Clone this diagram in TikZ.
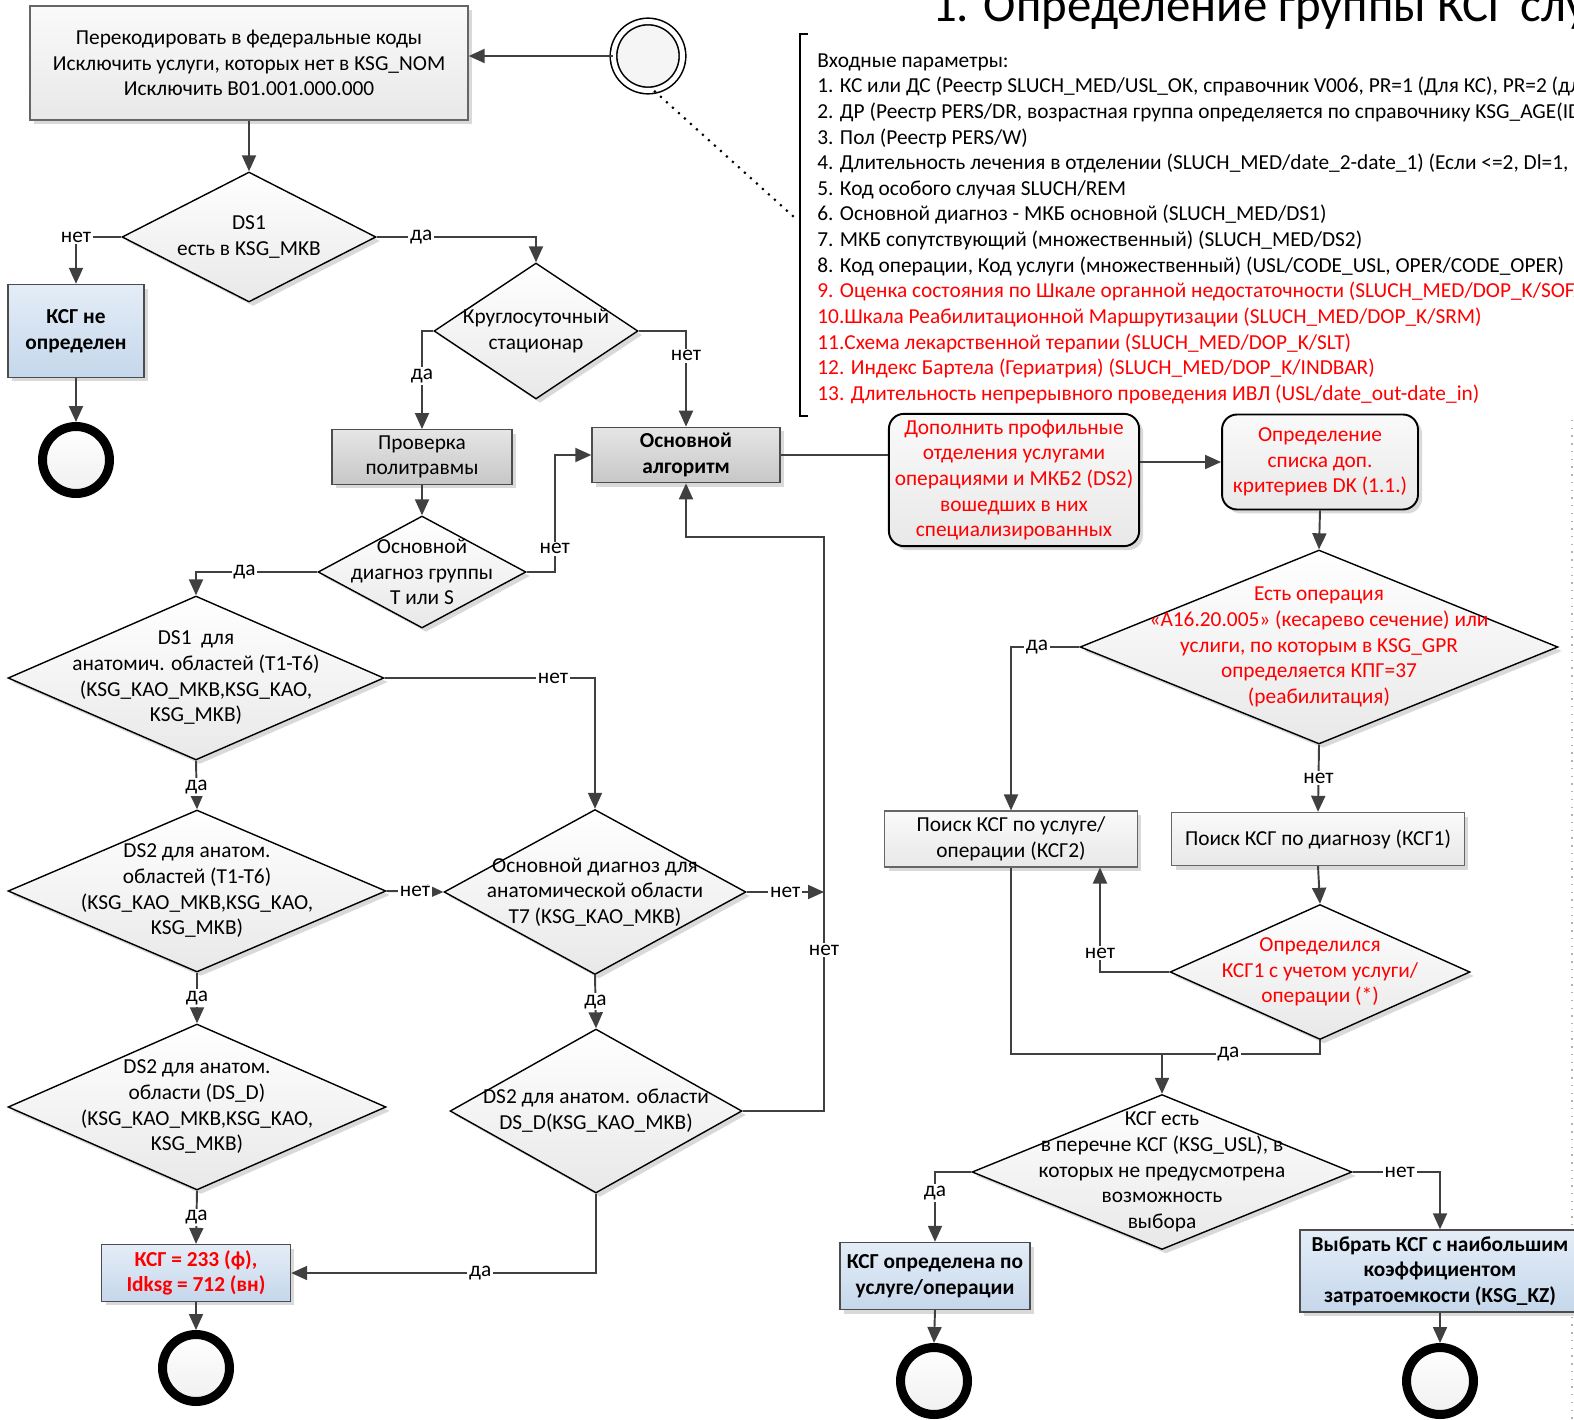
\documentclass[tikz,border=0pt]{standalone}
\usepackage{fontspec}
\setmainfont{Carlito}
\usetikzlibrary{shapes.geometric, arrows.meta, shadows, positioning}
\definecolor{boxblue1}{HTML}{E4EDF7}
\definecolor{boxblue2}{HTML}{C5D7EB}
\definecolor{linegray}{HTML}{404040}
\newcommand{\basefont}{\fontsize{12.15pt}{14.6pt}\selectfont}
\tikzset{
	every node/.style={font=\basefont},
	boxshadow/.style={drop shadow={shadow xshift=0.08cm, shadow yshift=-0.08cm, fill=black!15, opacity=1}},
	link/.style={draw=linegray, line width=1.1pt},
	flow/.style={link, -{Triangle[length=0.32cm, width=0.28cm]}},
	lbl/.style={fill=white, inner sep=1pt},
	decision/.style={diamond, draw=black, line width=0.8pt, top color=white, bottom color=black!9, inner sep=0pt, boxshadow},
	dtext/.style={align=center, inner sep=0pt},
	procbox/.style={rectangle, draw=black!60, line width=0.8pt, top color=black!2, bottom color=black!9, align=center, boxshadow},
	greybox/.style={procbox, draw=black!70, top color=black!10, bottom color=black!22},
	bluebox/.style={procbox, draw=black!70, top color=boxblue1, bottom color=boxblue2, font=\basefont\bfseries},
	roundbox/.style={procbox, draw=black, line width=1.1pt, rounded corners=0.3cm, text=red},
	startpt/.style={circle, draw=black, line width=0.9pt, double=white, double distance=0.1cm, fill=black!4, minimum size=1.38cm, inner sep=0pt},
	endpt/.style={circle, draw=black, line width=0.18cm, top color=white, bottom color=black!6, minimum size=1.34cm, inner sep=0pt}
}

\begin{document}
\begin{tikzpicture}[x=0.02cm, y=-0.02cm]
	\useasboundingbox (0,0) rectangle (1574,1419);
	\clip (0,0) rectangle (1574,1419);
	\node[anchor=base west, font=\fontsize{27.8pt}{32pt}\selectfont] (title) at (926,22) {1. Определение группы КСГ случая};
	\draw[line width=1pt] (808,34) -- (800,34) -- (800,416) -- (808,416);
	\node[anchor=north west, align=left, inner sep=0pt] (params) at (817,53) {Входные параметры:\\
		1. КС или ДС (Реестр SLUCH\_MED/USL\_OK, справочник V006, PR=1 (Для КС), PR=2 (для ДС))\\
		2. ДР (Реестр PERS/DR, возрастная группа определяется по справочнику KSG\_AGE(ID\_AGE))\\
		3. Пол (Реестр PERS/W)\\
		4. Длительность лечения в отделении (SLUCH\_MED/date\_2-date\_1) (Если <=2, Dl=1, иначе Dl=2)\\
		5. Код особого случая SLUCH/REM\\
		6. Основной диагноз - МКБ основной (SLUCH\_MED/DS1)\\
		7. МКБ сопутствующий (множественный) (SLUCH\_MED/DS2)\\
		8. Код операции, Код услуги (множественный) (USL/CODE\_USL, OPER/CODE\_OPER)\\
		\textcolor{red}{9. Оценка состояния по Шкале органной недостаточности (SLUCH\_MED/DOP\_K/SOFA)}\\
		\textcolor{red}{10.Шкала Реабилитационной Маршрутизации (SLUCH\_MED/DOP\_K/SRM)}\\
		\textcolor{red}{11.Схема лекарственной терапии (SLUCH\_MED/DOP\_K/SLT)}\\
		\textcolor{red}{12. Индекс Бартела (Гериатрия) (SLUCH\_MED/DOP\_K/INDBAR)}\\
		\textcolor{red}{13. Длительность непрерывного проведения ИВЛ (USL/date\_out-date\_in)}};
	\draw[dash pattern={on 0.8pt off 3.6pt}, line width=0.8pt, black!30] (1572,420) -- (1572,1419);

	\node[startpt] (start) at (648,56) {};
	\coordinate (note) at (795,218);
	\node[procbox, minimum width=8.76cm, minimum height=2.28cm] (recode) at (249,63) {Перекодировать в федеральные коды\\Исключить услуги, которых нет в KSG\_NOM\\Исключить B01.001.000.000};
	\node[decision, minimum width=5.08cm, minimum height=2.6cm, label={[dtext]center:{DS1\\есть в KSG\_MKB}}] (ds1) at (249,237) {};
	\node[bluebox, minimum width=2.72cm, minimum height=1.86cm] (nokg) at (76,331) {КСГ не\\определен};
	\node[endpt] (end1) at (76,460) {};
	\node[decision, minimum width=4.08cm, minimum height=2.72cm, label={[dtext]center:{Круглосуточный\\стационар}}] (round) at (536,331) {};
	\node[greybox, minimum width=3.6cm, minimum height=1.08cm] (poly) at (422,457) {Проверка\\политравмы};
	\node[greybox, minimum width=3.76cm, minimum height=1.08cm, font=\basefont\bfseries] (mainalg) at (686,455) {Основной\\алгоритм};
	\node[decision, minimum width=4.16cm, minimum height=2.24cm, label={[dtext]center:{Основной\\диагноз группы\\Т или S}}] (ts) at (422,572) {};
	\node[decision, minimum width=7.52cm, minimum height=3.28cm, label={[dtext]center:{DS1~~для\\анатомич. областей (Т1-Т6)\\(KSG\_KAO\_MKB,KSG\_KAO,\\KSG\_MKB)}}] (anat1) at (196,678) {};
	\node[decision, minimum width=7.56cm, minimum height=3.24cm, label={[dtext]center:{DS2 для анатом.\\областей (Т1-Т6)\\(KSG\_KAO\_MKB,KSG\_KAO,\\KSG\_MKB)}}] (anat2) at (197,891) {};
	\node[decision, minimum width=6.04cm, minimum height=3.3cm, label={[dtext]center:{Основной диагноз для\\анатомической области\\Т7 (KSG\_KAO\_MKB)}}] (t7) at (595,892) {};
	\node[decision, minimum width=7.56cm, minimum height=3.32cm, label={[dtext]center:{DS2 для анатом.\\области (DS\_D)\\(KSG\_KAO\_MKB,KSG\_KAO,\\KSG\_MKB)}}] (anat3) at (197,1107) {};
	\node[decision, minimum width=5.84cm, minimum height=3.28cm, label={[dtext]center:{DS2 для анатом. области\\DS\_D(KSG\_KAO\_MKB)}}] (dsd) at (596,1111) {};
	\node[bluebox, minimum width=3.78cm, minimum height=0.92cm, text=red] (ksg233) at (196,1273) {КСГ = 233 (ф),\\Idksg = 712 (вн)};
	\node[endpt] (end2) at (196,1368) {};
	\coordinate (back) at (824,537);

	\node[roundbox, minimum width=4.96cm, minimum height=2.6cm] (addsvc) at (1014,480) {Дополнить профильные\\отделения услугами\\операциями и МКБ2 (DS2)\\вошедших в них\\специализированных};
	\node[roundbox, minimum width=3.92cm, minimum height=1.9cm] (dk) at (1320,462) {Определение\\списка доп.\\критериев DK (1.1.)};
	\node[decision, minimum width=9.56cm, minimum height=3.88cm, label={[dtext, text=red]center:{Есть операция\\«А16.20.005» (кесарево сечение) или\\услиги, по которым в KSG\_GPR\\определяется КПГ=37\\(реабилитация)}}] (cs) at (1319,647) {};
	\node[procbox, minimum width=5.06cm, minimum height=1.06cm] (srv) at (1011,839) {Поиск КСГ по услуге/\\операции (КСГ2)};
	\node[procbox, minimum width=5.86cm, minimum height=1.06cm] (diag) at (1318,839) {Поиск КСГ по диагнозу (КСГ1)};
	\node[decision, minimum width=6cm, minimum height=2.7cm, label={[dtext, text=red]center:{Определился\\КСГ1 с учетом услуги/\\операции (*)}}] (got) at (1320,972) {};
	\coordinate (join) at (1162,1054);
	\node[decision, minimum width=7.6cm, minimum height=3.1cm, label={[dtext]center:{КСГ есть\\в перечне КСГ (KSG\_USL), в\\которых не предусмотрена\\возможность\\выбора}}] (usl) at (1162,1172) {};
	\node[bluebox, minimum width=3.8cm, minimum height=1.34cm] (bysvc) at (935,1276) {КСГ определена по\\услуге/операции};
	\node[bluebox, minimum width=5.6cm, minimum height=1.64cm] (maxkz) at (1440,1271) {Выбрать КСГ с наибольшим\\коэффициентом\\затратоемкости (KSG\_KZ)};
	\node[endpt] (end3) at (934,1381) {};
	\node[endpt] (end4) at (1440,1381) {};

	\draw[dash pattern={on 1.2pt off 3.4pt}, line width=1.2pt] (start.-80) -- (note);
	\draw[flow] (start.west) -- (start.west -| recode.east);
	\draw[flow] (recode.south) -- (ds1.north);
	\draw[flow] (ds1.west) -| node[lbl, pos=0.5] {нет} (nokg.north);
	\draw[flow] (nokg.south) -- (end1.north);
	\draw[flow] (ds1.east) -| node[lbl, pos=0.14] {да} (round.north);
	\draw[flow] (round.west) -| node[lbl, pos=0.73] {да} (poly.north);
	\draw[flow] (round.east) -| node[lbl, pos=0.63] {нет} (mainalg.north);
	\draw[flow] (poly.south) -- (ts.north);
	\draw[flow] (ts.west) -| node[lbl, pos=0.3] {да} (anat1.north);
	\draw[flow] (ts.east) -- ++(28,0) |- node[lbl, pos=0.1] {нет} (mainalg.west);
	\draw[flow] (anat1.east) -| node[lbl, pos=0.4] {нет} (t7.north);
	\draw[flow] (anat1.south) -- node[lbl, pos=0.54] {да} (anat2.north);
	\draw[flow] (anat2.east) -- node[lbl] {нет} (t7.west);
	\draw[flow] (t7.east) -- node[lbl] {нет} (t7.east -| back);
	\draw[flow] (dsd.east) -| node[lbl, pos=0.64] {нет} (back) -| (mainalg.south);
	\draw[flow] (t7.south) -- node[lbl] {да} (dsd.north);
	\draw[flow] (anat2.south) -- node[lbl] {да} (anat3.north);
	\draw[flow] (anat3.south) -- node[lbl] {да} (ksg233.north);
	\draw[flow] (dsd.south) |- node[lbl, pos=0.69] {да} (ksg233.east);
	\draw[flow] (ksg233.south) -- (end2.north);

	\draw[link] (mainalg.east) -- (mainalg.east -| addsvc.west);
	\draw[flow] (addsvc.east |- dk.west) -- (dk.west);
	\draw[flow] (dk.south) -- (cs.north);
	\draw[flow] (cs.west) -| node[lbl, pos=0.31] {да} (srv.north);
	\draw[flow] (cs.south) -- node[lbl] {нет} (diag.north);
	\draw[flow] (diag.south) -- (got.north);
	\draw[flow] (got.west) -| node[lbl, pos=0.59] {нет} ([xshift=1.78cm]srv.south);
	\draw[link] (got.south) |- node[lbl, pos=0.79] {да} (join);
	\draw[link] (srv.south) |- (join);
	\draw[flow] (join) -- (usl.north);
	\draw[flow] (usl.west) -| node[lbl, pos=0.65] {да} (bysvc.north);
	\draw[flow] (usl.east) -| node[lbl, pos=0.27] {нет} (maxkz.north);
	\draw[flow] (bysvc.south) -- (end3.north);
	\draw[flow] (maxkz.south) -- (end4.north);
\end{tikzpicture}
\end{document}
